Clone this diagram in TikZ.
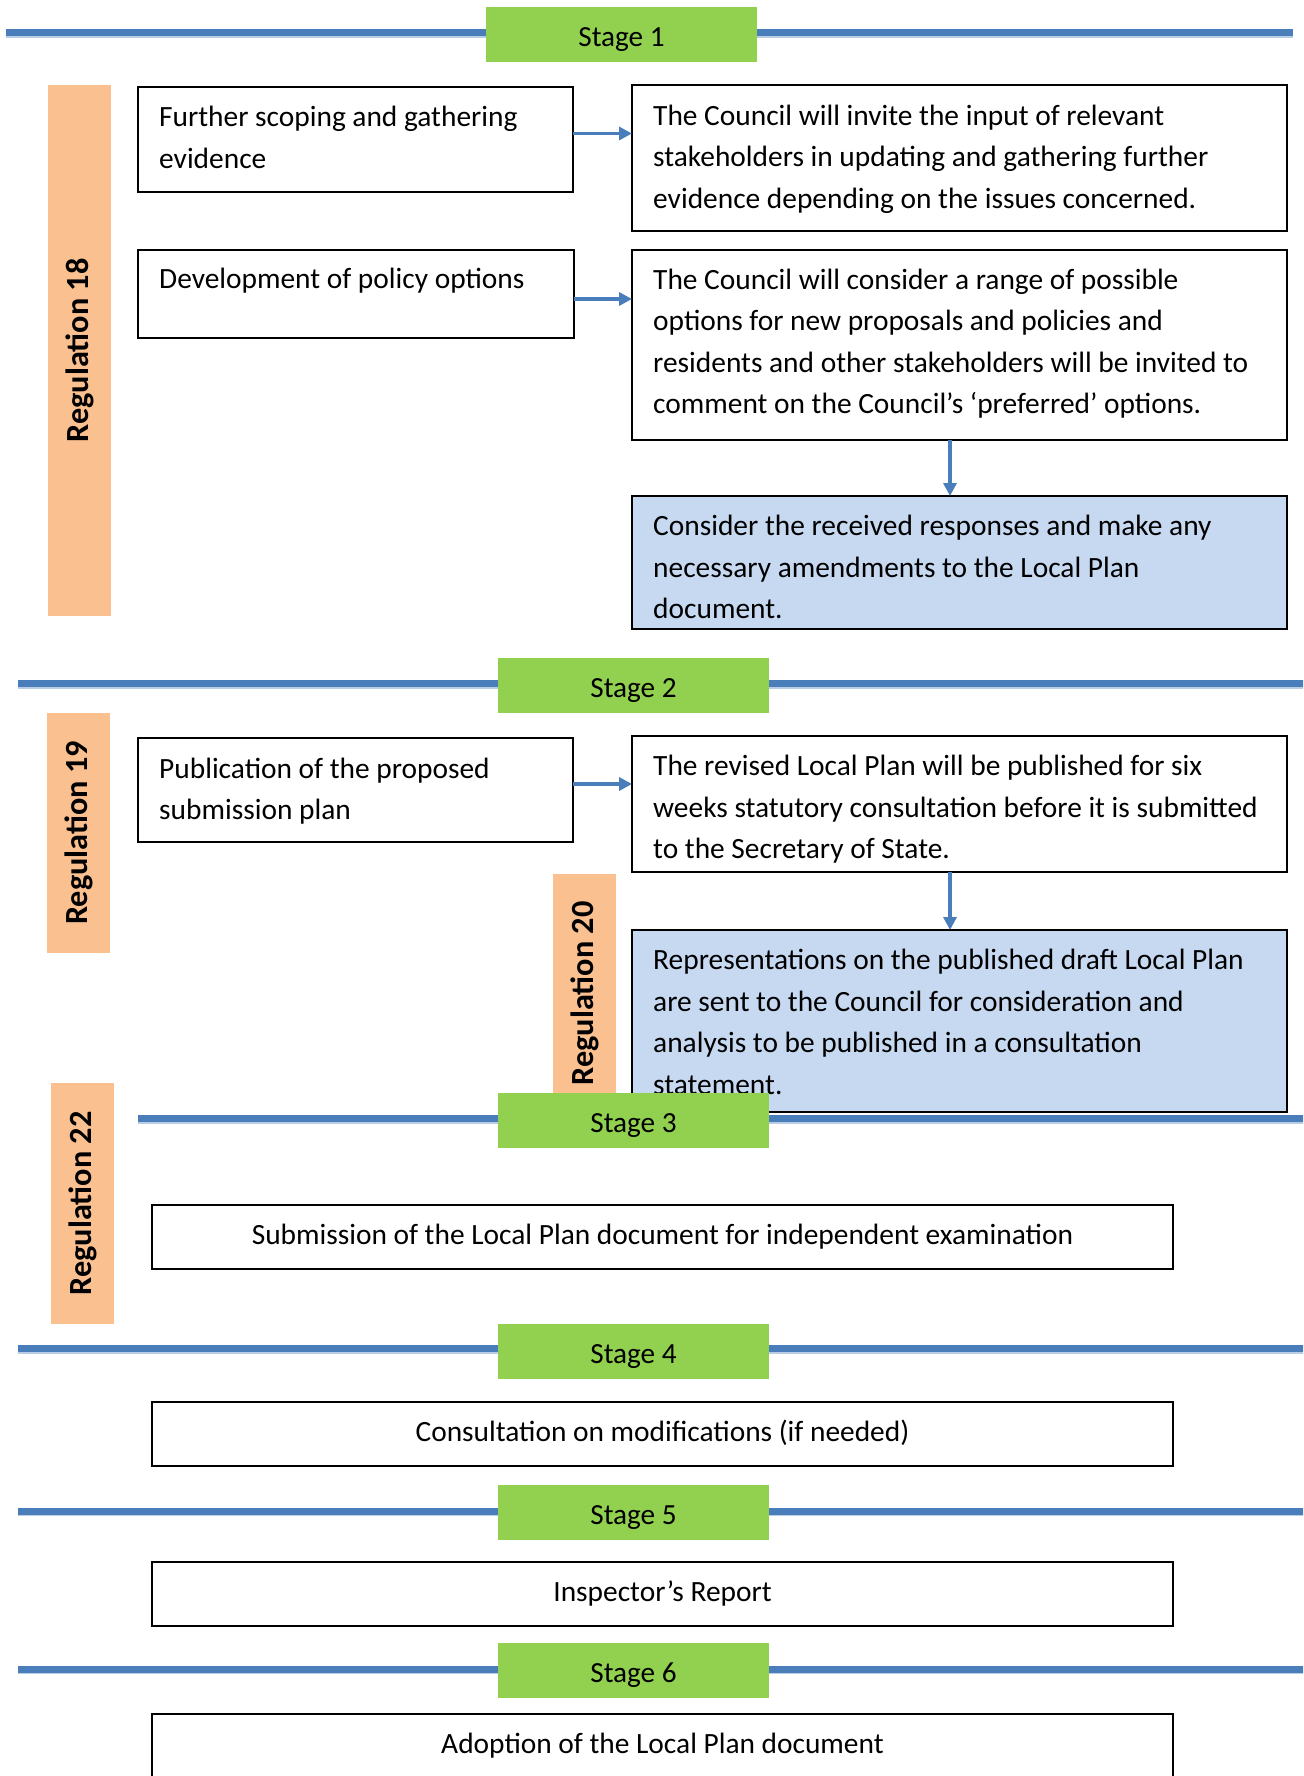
\documentclass[tikz,border=0pt]{standalone}
\usepackage{fontspec}
\setmainfont{Carlito}
\usetikzlibrary{arrows.meta}
\definecolor{lineblue}{HTML}{4A7EBB}
\definecolor{shadowblue}{HTML}{B9CDE5}
\definecolor{stagegreen}{HTML}{92D050}
\definecolor{regorange}{HTML}{FAC090}
\definecolor{boxblue}{HTML}{C6D9F1}
\tikzset{
  box/.style={draw=black, line width=2.5pt, fill=white, anchor=north west, inner sep=0pt, outer sep=0pt},
  bluebox/.style={box, fill=boxblue},
  cbox/.style={box, font=\fontsize{29.4}{41.5}\selectfont, text height=14pt, text depth=0pt},
  txt/.style={anchor=base west, inner sep=0pt, text width=700pt, align=flush left, font=\fontsize{29.4}{41.5}\selectfont},
  stagebox/.style={fill=stagegreen, anchor=north west, inner sep=0pt, outer sep=0pt, minimum width=271pt, minimum height=55pt, font=\fontsize{29.2}{35}\selectfont, text height=24pt, text depth=0pt},
  stageline/.style={draw=lineblue, line width=7pt},
  stageshadow/.style={draw=shadowblue, line width=1.5pt},
  regbar/.style={fill=regorange, anchor=north west, inner sep=0pt, outer sep=0pt, minimum width=63pt},
  regtxt/.style={rotate=90, inner sep=0pt, font=\bfseries\fontsize{32.3}{36}\selectfont},
  arr/.style={draw=lineblue, line width=3.5pt, -{Triangle[length=13pt,width=13pt]}},
}
\begin{document}
\begin{tikzpicture}[x=1pt,y=-1pt]
\clip (0,0) rectangle (1303,1776);
\useasboundingbox (0,0) rectangle (1303,1776);

% stage lines
\foreach \ya/\xa/\xb in {32.5/6/1292.5, 683.5/18/1310, 1118.5/138/1310, 1348.8/18/1310, 1511/18/1310, 1669.2/18/1310}{
  \draw[stageline] (\xa,\ya) -- (\xb,\ya);
  \draw[stageshadow] (\xa,\ya+4.3) -- (\xb,\ya+4.3);
}

% regulation bars
\node[regbar, minimum height=531pt] (r18) at (48,85) {};
\node[regbar, minimum height=240pt] (r19) at (47,713) {};
\node[regbar, minimum height=239pt] (r20) at (553,874) {};
\node[regbar, minimum height=241pt] (r22) at (51,1083) {};
\node[regtxt] (t18) at (79.5,350.5) {Regulation 18};
\node[regtxt] (t19) at (78.5,833) {Regulation 19};
\node[regtxt] (t20) at (584.5,993.5) {Regulation 20};
\node[regtxt] (t22) at (82.5,1203.5) {Regulation 22};

% stage 1 boxes
\node[box, minimum width=435pt, minimum height=105pt] (b1) at (138,87) {};
\node[txt] (b1t) at ([shift={(21pt,-40pt)}]b1.north west) {Further scoping and gathering\\evidence};
\node[box, minimum width=655pt, minimum height=146pt] (b2) at (632,85) {};
\node[txt] (b2t) at ([shift={(21pt,-40.5pt)}]b2.north west) {The Council will invite the input of relevant\\stakeholders in updating and gathering further\\evidence depending on the issues concerned.};
\node[box, minimum width=436pt, minimum height=88pt] (b3) at (138,250) {};
\node[txt] (b3t) at ([shift={(21pt,-39pt)}]b3.north west) {Development of policy options};
\node[box, minimum width=655pt, minimum height=190pt] (b4) at (632,250) {};
\node[txt] (b4t) at ([shift={(21pt,-39.5pt)}]b4.north west) {The Council will consider a range of possible\\options for new proposals and policies and\\residents and other stakeholders will be invited to\\comment on the Council’s ‘preferred’ options.};
\node[bluebox, minimum width=655pt, minimum height=133pt] (b5) at (632,496) {};
\node[txt] (b5t) at ([shift={(21pt,-39.5pt)}]b5.north west) {Consider the received responses and make any\\necessary amendments to the Local Plan\\document.};

% stage 2 boxes
\node[box, minimum width=435pt, minimum height=104pt] (b6) at (138,738) {};
\node[txt] (b6t) at ([shift={(21pt,-40pt)}]b6.north west) {Publication of the proposed\\submission plan};
\node[box, minimum width=655pt, minimum height=136pt] (b7) at (632,736) {};
\node[txt] (b7t) at ([shift={(21pt,-39.5pt)}]b7.north west) {The revised Local Plan will be published for six\\weeks statutory consultation before it is submitted\\to the Secretary of State.};
\node[bluebox, minimum width=655pt, minimum height=182pt] (b8) at (632,930) {};
\node[txt] (b8t) at ([shift={(21pt,-39.5pt)}]b8.north west) {Representations on the published draft Local Plan\\are sent to the Council for consideration and\\analysis to be published in a consultation\\statement.};

% single-line boxes
\node[cbox, minimum width=1021pt, minimum height=64pt] (b9) at (152,1205) {Submission of the Local Plan document for independent examination};
\node[cbox, minimum width=1021pt, minimum height=64pt] (b10) at (152,1402) {Consultation on modifications (if needed)};
\node[cbox, minimum width=1021pt, minimum height=64pt] (b11) at (152,1562) {Inspector’s Report};
\node[cbox, minimum width=1021pt, minimum height=90pt, text height=0pt, text depth=12pt] (b12) at (152,1714) {Adoption of the Local Plan document};

% arrows
\coordinate (a1) at ([yshift=6pt]b1.east);
\draw[arr] (a1) -- (a1 -| b2.west);
\coordinate (a2) at ([yshift=-5pt]b3.east);
\draw[arr] (a2) -- (a2 -| b4.west);
\coordinate (a3) at ([xshift=-9.5pt]b4.south);
\draw[arr] (a3) -- (a3 |- b5.north);
\coordinate (a4) at ([yshift=6pt]b6.east);
\draw[arr] (a4) -- (a4 -| b7.west);
\coordinate (a5) at ([xshift=-9.5pt]b7.south);
\draw[arr] (a5) -- (a5 |- b8.north);

% stage boxes
\node[stagebox] (s1) at (486,7) {Stage 1};
\node[stagebox] (s2) at (498,658) {Stage 2};
\node[stagebox] (s3) at (498,1093) {Stage 3};
\node[stagebox] (s4) at (498,1324) {Stage 4};
\node[stagebox] (s5) at (498,1485) {Stage 5};
\node[stagebox] (s6) at (498,1643) {Stage 6};
\end{tikzpicture}
\end{document}
